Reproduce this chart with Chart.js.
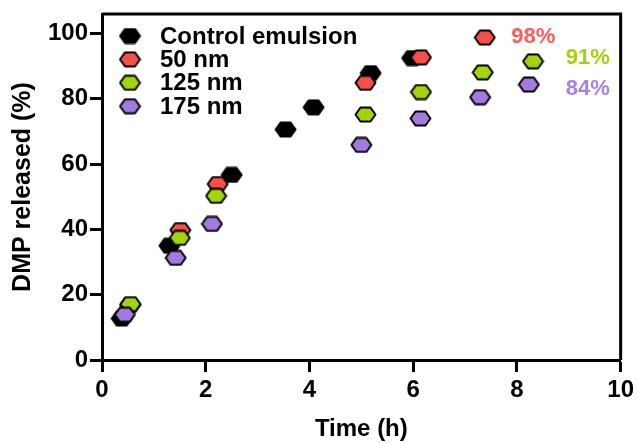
<!DOCTYPE html>
<html>
<head>
<meta charset="utf-8">
<script src="https://cdn.jsdelivr.net/npm/chart.js@4/dist/chart.umd.min.js"></script>
<style>
  body { margin: 0; background: #fff; }
  #wrap { width: 638px; height: 443px; }
</style>
</head>
<body>
<div id="wrap"><canvas id="chart"></canvas></div>
<script>
"use strict";

// series names, in legend order
const seriesNames = ['Control emulsion', '50 nm', '125 nm', '175 nm'];

// time (h) and DMP released (%) per series
const controlTime = [0.38, 1.30, 2.50, 3.54, 4.08, 5.18, 5.98];
const controlRel  = [12.7, 35.0, 56.7, 70.6, 77.4, 87.9, 92.5];

const nm50Time = [0.54, 1.51, 2.23, 5.08, 6.15, 7.38];
const nm50Rel  = [16.8, 39.8, 53.9, 84.9, 92.7, 98.8];

const nm125Time = [0.55, 1.50, 2.20, 5.08, 6.15, 7.34, 8.31];
const nm125Rel  = [17.1, 37.4, 50.3, 75.2, 82.1, 88.1, 91.5];

const nm175Time = [0.44, 1.42, 2.12, 5.00, 6.14, 7.29, 8.23];
const nm175Rel  = [13.9, 31.3, 41.7, 65.9, 74.0, 80.5, 84.4];

// final release labels on the right
const endLabels = ['98%', '91%', '84%'];
const endLabelTime = [7.89, 8.94, 8.94];
const endLabelRel = [99.1, 92.4, 82.9];

const xTicks = [0, 2, 4, 6, 8, 10];
const yTicks = [0, 20, 40, 60, 80, 100];

const fills = ['#000000', '#f5504a', '#a5d30c', '#a37adf'];
const labelColors = ['#ff5b5b', '#a6d20a', '#ab80e6'];
const FONT = "'Liberation Sans', Arial, sans-serif";

function hexagon(fill) {
  const c = document.createElement('canvas');
  c.width = 23; c.height = 17;
  const g = c.getContext('2d');
  g.beginPath();
  g.moveTo(1.5, 8.5);
  g.lineTo(6.5, 1.5);
  g.lineTo(16.5, 1.5);
  g.lineTo(21.5, 8.5);
  g.lineTo(16.5, 15.5);
  g.lineTo(6.5, 15.5);
  g.closePath();
  g.fillStyle = fill;
  g.fill();
  g.lineWidth = 2;
  g.strokeStyle = '#000';
  g.lineJoin = 'round';
  g.stroke();
  return c;
}

const markers = fills.map(hexagon);

function pairs(xs, ys) {
  return xs.map((x, i) => ({ x: x, y: ys[i] }));
}

const seriesData = [
  pairs(controlTime, controlRel),
  pairs(nm50Time, nm50Rel),
  pairs(nm125Time, nm125Rel),
  pairs(nm175Time, nm175Rel),
];

// legend + frame + end labels
const extras = {
  id: 'extras',
  afterDraw(chart) {
    const { ctx, chartArea: a, scales } = chart;
    ctx.save();
    ctx.strokeStyle = '#000';
    ctx.lineWidth = 3;
    ctx.beginPath();
    ctx.moveTo(a.left, a.top);
    ctx.lineTo(a.right, a.top);
    ctx.lineTo(a.right, a.bottom);
    ctx.stroke();

    ctx.font = 'bold 24px ' + FONT;
    ctx.textBaseline = 'middle';
    ctx.textAlign = 'left';
    ctx.fillStyle = '#000';
    seriesNames.forEach((name, i) => {
      const y = a.top + 22 + i * 23.4;
      const m = markers[i];
      ctx.drawImage(m, a.left + 28 - m.width / 2, y - m.height / 2);
      ctx.fillText(name, a.left + 58, y + 1);
    });

    ctx.font = 'bold 22px ' + FONT;
    endLabels.forEach((t, i) => {
      ctx.fillStyle = labelColors[i];
      ctx.fillText(t, scales.x.getPixelForValue(endLabelTime[i]),
                   scales.y.getPixelForValue(endLabelRel[i]));
    });
    ctx.restore();
  }
};

new Chart(document.getElementById('chart'), {
  type: 'scatter',
  data: {
    datasets: seriesNames.map((name, i) => ({
      label: name,
      data: seriesData[i],
      pointStyle: markers[i],
      pointRadius: 10,
      order: 4 - i,
    })),
  },
  options: {
    responsive: true,
    maintainAspectRatio: false,
    animation: false,
    layout: { padding: { left: 0, right: 15, top: 13, bottom: 0 } },
    plugins: {
      legend: { display: false },
      tooltip: { enabled: false },
    },
    scales: {
      x: {
        type: 'linear',
        min: 0,
        max: 10,
        afterBuildTicks: (s) => { s.ticks = xTicks.map(v => ({ value: v })); },
        afterFit: (s) => { s.height = 83; },
        grid: { drawOnChartArea: false, tickLength: 12, tickWidth: 3, tickColor: '#000' },
        border: { color: '#000', width: 3 },
        ticks: { color: '#000', padding: 4, font: { family: FONT, size: 24, weight: 'bold' } },
        title: {
          display: true, text: 'Time (h)', color: '#000',
          padding: { top: 0, bottom: -1 },
          font: { family: FONT, size: 24, weight: 'bold' },
        },
      },
      y: {
        type: 'linear',
        min: 0,
        max: 106,
        afterBuildTicks: (s) => { s.ticks = yTicks.map(v => ({ value: v })); },
        afterFit: (s) => { s.width = 102; },
        grid: { drawOnChartArea: false, tickLength: 12, tickWidth: 3, tickColor: '#000' },
        border: { color: '#000', width: 3 },
        ticks: { color: '#000', padding: 2, font: { family: FONT, size: 24, weight: 'bold', lineHeight: 1 } },
        title: {
          display: true, text: 'DMP released (%)', color: '#000',
          padding: { top: 8, bottom: 0 },
          font: { family: FONT, size: 25, weight: 'bold' },
        },
      },
    },
  },
  plugins: [extras],
});
</script>
</body>
</html>
